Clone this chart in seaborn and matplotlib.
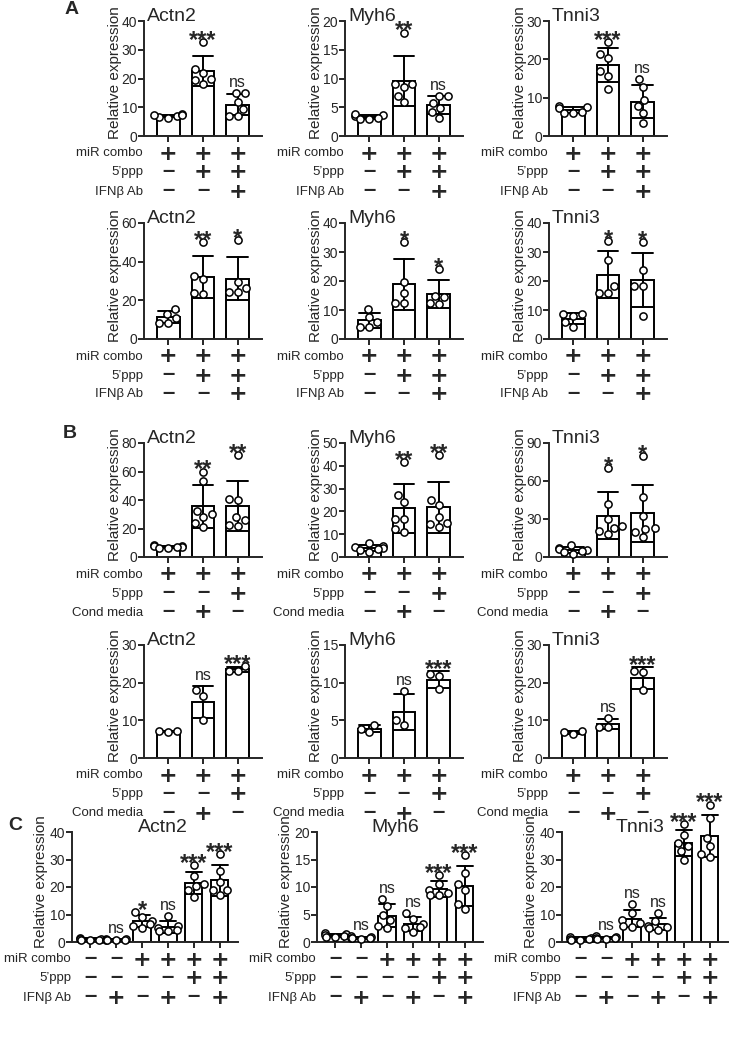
import warnings
import matplotlib.pyplot as plt
import matplotlib.transforms as mtransforms
import numpy as np
import pandas as pd
import seaborn as sns

warnings.filterwarnings('ignore')

sns.set_style('ticks')
plt.rcParams['font.family'] = ['Liberation Sans', 'DejaVu Sans']

W, H = 753, 1037
genes = ['Actn2', 'Myh6', 'Tnni3']

# Panel A, top row (replicates per condition)
a1_actn2 = [[6.4, 7.0, 7.6, 7.2, 6.7, 7.3], [32.6, 23.3, 22.0, 19.7, 18.1, 19.5], [15.0, 15.0, 12.0, 9.5, 7.0, 7.0]]
a1_myh6 = [[2.9, 3.4, 3.6, 3.2, 3.9, 3.0], [18.0, 9.0, 9.1, 8.5, 7.0, 5.9], [7.0, 7.0, 5.8, 4.8, 4.2, 3.2]]
a1_tnni3 = [[7.5, 7.8, 6.3, 6.0, 7.2, 6.0], [24.4, 21.4, 20.3, 17.0, 15.7, 12.3], [14.8, 12.7, 9.4, 7.8, 5.9, 3.3]]
a1_sig = [['', '***', 'ns'], ['', '**', 'ns'], ['', '***', 'ns']]

# Panel A, bottom row
a2_actn2 = [[15.5, 13.0, 11.0, 8.5, 8.5], [50.2, 31.2, 32.7, 23.3, 23.8], [51.0, 29.5, 26.5, 24.5, 24.5]]
a2_myh6 = [[10.5, 7.5, 5.8, 4.3, 4.0], [33.5, 19.5, 16.0, 12.5, 12.5], [24.0, 14.5, 15.0, 12.0, 12.5]]
a2_tnni3 = [[8.7, 8.5, 7.8, 5.8, 4.3], [33.9, 27.4, 18.2, 15.9, 15.8], [33.3, 23.9, 18.4, 18.4, 8.0]]
a2_sig = [['', '**', '*'], ['', '*', '*'], ['', '*', '*']]

# Panel B, top row
b1_actn2 = [[8.5, 8.0, 7.5, 7.0, 6.8, 6.5, 6.0], [60.0, 53.0, 32.5, 30.0, 28.0, 24.0, 21.0],
            [71.8, 40.5, 40.0, 28.1, 26.0, 22.2, 22.0]]
b1_myh6 = [[6.1, 4.8, 4.3, 3.8, 3.6, 3.0, 2.0], [41.8, 27.0, 24.1, 16.7, 16.7, 12.4, 11.0],
           [44.9, 24.9, 22.7, 17.5, 13.2, 14.3, 15.0]]
b1_tnni3 = [[9.2, 7.0, 6.5, 5.5, 5.0, 4.0, 2.5], [70.3, 41.6, 30.3, 24.5, 23.0, 20.5, 17.9],
            [80.0, 47.4, 32.1, 22.4, 23.0, 20.0, 15.8]]
b1_sig = [['', '**', '**'], ['', '**', '**'], ['', '*', '*']]

# Panel B, bottom row
b2_actn2 = [[7.0, 7.2, 7.1], [10.0, 16.5, 18.0], [24.3, 23.0, 23.2]]
b2_myh6 = [[4.4, 3.9, 3.4], [8.9, 5.0, 4.4], [11.2, 10.9, 9.1]]
b2_tnni3 = [[7.3, 6.9, 6.5], [10.6, 8.2, 8.2], [23.2, 22.7, 18.0]]
b2_sig = [['', 'ns', '***'], ['', 'ns', '***'], ['', 'ns', '***']]

# Panel C
c_actn2 = [[1.5, 1.2, 1.0, 0.9, 0.7, 0.6], [1.2, 1.0, 0.9, 0.8, 0.7, 0.8], [11.0, 9.0, 7.5, 6.5, 6.0, 5.0],
           [9.5, 6.0, 5.0, 4.5, 4.0, 4.0], [28.0, 24.0, 21.0, 20.5, 19.0, 16.5], [32.0, 26.0, 22.0, 19.0, 19.0, 17.0]]
c_myh6 = [[1.7, 1.4, 1.2, 1.1, 0.9, 0.9], [1.1, 0.9, 0.8, 0.7, 0.7, 0.6], [7.8, 6.5, 5.0, 4.0, 2.5, 3.0],
          [5.2, 4.2, 3.3, 2.8, 2.5, 1.8], [12.2, 10.5, 9.5, 9.0, 8.5, 8.5], [15.8, 12.5, 10.5, 9.5, 7.0, 6.0]]
c_tnni3 = [[2.0, 1.5, 1.2, 1.0, 0.8, 0.7], [2.2, 1.8, 1.5, 1.3, 1.2, 1.0], [14.0, 10.5, 8.0, 7.0, 6.0, 5.5],
           [10.5, 7.5, 6.0, 5.5, 5.0, 4.5], [43.0, 39.0, 36.0, 35.0, 33.0, 30.0], [50.0, 45.0, 38.0, 35.0, 32.0, 31.0]]
c_sig = [['', 'ns', '*', 'ns', '***', '***'], ['', 'ns', 'ns', 'ns', '***', '***'], ['', 'ns', 'ns', 'ns', '***', '***']]

# y-axis ticks (max, step)
a1_ticks = [(40, 10), (20, 5), (30, 10)]
a2_ticks = [(60, 20), (40, 10), (40, 10)]
b1_ticks = [(80, 20), (50, 10), (90, 30)]
b2_ticks = [(30, 10), (15, 5), (30, 10)]
c_ticks = [(40, 10), (20, 5), (40, 10)]

# condition tables
row_a = ['miR combo', '5\u2019ppp', 'IFN\u03b2 Ab']
tab_a = [['+', '+', '+'], ['\u2013', '+', '+'], ['\u2013', '\u2013', '+']]
row_b = ['miR combo', '5\u2019ppp', 'Cond media']
tab_b = [['+', '+', '+'], ['\u2013', '\u2013', '+'], ['\u2013', '+', '\u2013']]
row_c = ['miR combo', '5\u2019ppp', 'IFN\u03b2 Ab']
tab_c = [['\u2013', '\u2013', '+', '+', '+', '+'], ['\u2013', '\u2013', '\u2013', '\u2013', '+', '+'],
         ['\u2013', '+', '\u2013', '+', '\u2013', '+']]

fig = plt.figure(figsize=(W / 100, H / 100), dpi=100)


def add_ax(left, top, width, bottom):
    return fig.add_axes([left / W, 1 - bottom / H, width / W, (bottom - top) / H])


def draw(ax, groups, sig, ticks, title, rows, table, width_px, title_x=None, ylab_px=22):
    n = len(groups)
    df = pd.DataFrame({'grp': np.repeat(np.arange(n), [len(g) for g in groups]),
                       'val': np.concatenate(groups)})
    sns.barplot(data=df, x='grp', y='val', errorbar='sd', color='white', saturation=1,
                edgecolor='black', linewidth=1.4, width=0.66, capsize=0.6,
                err_kws={'color': 'black', 'linewidth': 1.4}, ax=ax)
    sns.swarmplot(data=df, x='grp', y='val', color='white', edgecolor='black',
                  linewidth=1.1, size=5.2, ax=ax)
    for c in ax.collections:
        c.set_clip_on(False)
    for l in ax.lines:
        l.set_clip_on(False)
    ymax, step = ticks
    ax.set_ylim(0, ymax)
    ax.set_yticks(np.arange(0, ymax + step / 2, step))
    ax.set_xlim(-0.7, n - 0.3)
    ax.set_xticks(range(n))
    ax.set_xticklabels([])
    ax.set_xlabel('')
    ax.set_ylabel('Relative expression', fontsize=11)
    ax.yaxis.set_label_coords(-ylab_px / width_px, 0.55)
    sns.despine(ax=ax)
    for s in ['left', 'bottom']:
        ax.spines[s].set_linewidth(1.4)
    ax.tick_params(length=4, width=1.4, labelsize=10, pad=1)

    if title_x is not None:
        ax.text(title_x, 1.0, title, transform=ax.transAxes, ha='center', va='baseline', fontsize=14)
    else:
        ax.text(0.025, 1.0, title, transform=ax.transAxes, ha='left', va='baseline', fontsize=14)

    trans = mtransforms.blended_transform_factory(ax.transData, ax.transAxes)
    for i, (g, s) in enumerate(zip(groups, sig)):
        if not s:
            continue
        top = max(max(g), np.mean(g) + np.std(g, ddof=1))
        if s == 'ns':
            ax.annotate(s, xy=(i, top), xytext=(0, 6), textcoords='offset pixels',
                        ha='center', va='baseline', fontsize=11.5, annotation_clip=False)
        else:
            ax.annotate(s, xy=(i, top), xytext=(0, -5), textcoords='offset pixels',
                        ha='center', va='baseline', fontsize=17, fontweight='bold',
                        annotation_clip=False)

    offs = [17.5, 36.5, 55.5]
    for r, (lab, syms) in enumerate(zip(rows, table)):
        ax.annotate(lab, xy=(0, 0), xycoords='axes fraction', xytext=(-1, -offs[r]),
                    textcoords='offset pixels', ha='right', va='center', fontsize=9.5)
        for i, sym in enumerate(syms):
            if sym == '+':
                ax.annotate(sym, xy=(i, 0), xycoords=trans, xytext=(0, -offs[r]),
                            textcoords='offset pixels', ha='center', va='center',
                            fontsize=16, fontweight='bold', family='DejaVu Sans')
            else:
                ax.annotate(sym, xy=(i, 0), xycoords=trans, xytext=(0, -offs[r] + 1),
                            textcoords='offset pixels', ha='center', va='center',
                            fontsize=16, fontweight='bold', family='Liberation Sans')


lefts = [144, 345, 549]
sets = [
    (21, 136, [a1_actn2, a1_myh6, a1_tnni3], a1_sig, a1_ticks, row_a, tab_a),
    (223, 339, [a2_actn2, a2_myh6, a2_tnni3], a2_sig, a2_ticks, row_a, tab_a),
    (443, 557, [b1_actn2, b1_myh6, b1_tnni3], b1_sig, b1_ticks, row_b, tab_b),
    (645, 758, [b2_actn2, b2_myh6, b2_tnni3], b2_sig, b2_ticks, row_b, tab_b),
]
for top, bottom, data, sig, ticks, rows, table in sets:
    for k in range(3):
        ax = add_ax(lefts[k], top, 118, bottom)
        draw(ax, data[k], sig[k], ticks[k], genes[k], rows, table, 118)

c_lefts = [72, 317, 562]
c_title_x = [0.55, 0.47, 0.47]
for k, data in enumerate([c_actn2, c_myh6, c_tnni3]):
    ax = add_ax(c_lefts[k], 832, 166, 942)
    draw(ax, data, c_sig[k], c_ticks[k], genes[k], row_c, tab_c, 166, title_x=c_title_x[k], ylab_px=24)

fig.text(65 / W, 1 - 10 / H, 'A', fontsize=14, fontweight='bold', ha='left', va='center')
fig.text(63 / W, 1 - 434 / H, 'B', fontsize=14, fontweight='bold', ha='left', va='center')
fig.text(8 / W, 1 - 826 / H, 'C', fontsize=14, fontweight='bold', ha='left', va='center')

fig.savefig('out.png', dpi=100)
